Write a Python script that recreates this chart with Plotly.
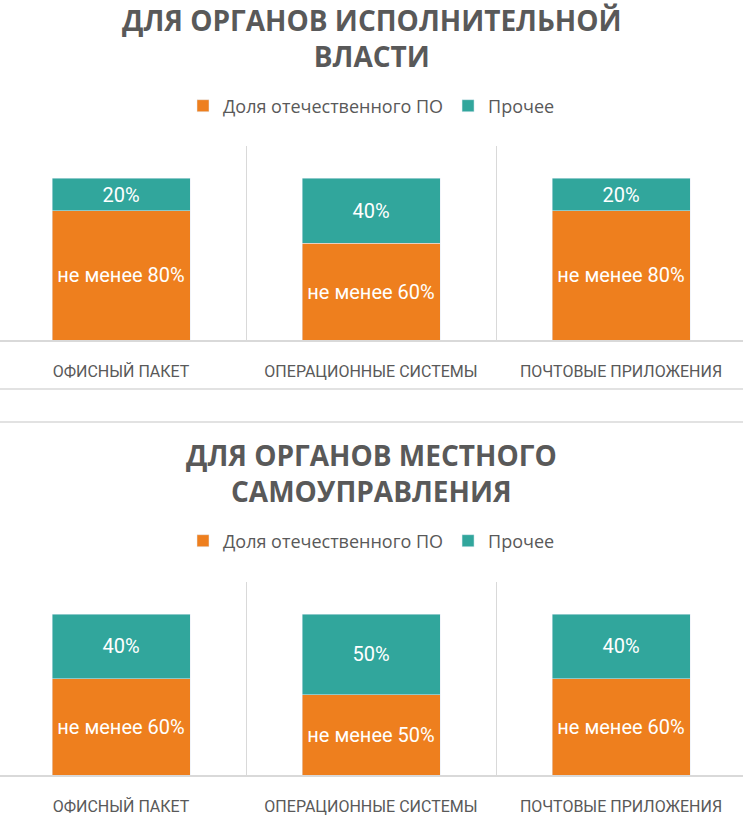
import plotly.graph_objects as go
from plotly.subplots import make_subplots

# data
categories = ["ОФИСНЫЙ ПАКЕТ", "ОПЕРАЦИОННЫЕ СИСТЕМЫ", "ПОЧТОВЫЕ ПРИЛОЖЕНИЯ"]
titles = ["ДЛЯ ОРГАНОВ ИСПОЛНИТЕЛЬНОЙ<br>ВЛАСТИ", "ДЛЯ ОРГАНОВ МЕСТНОГО<br>САМОУПРАВЛЕНИЯ"]
series_names = ["Доля отечественного ПО", "Прочее"]
domestic_exec = [80, 60, 80]
other_exec = [20, 40, 20]
domestic_local = [60, 50, 60]
other_local = [40, 50, 40]

ORANGE = "#EE7F1E"
TEAL = "#31A69C"
GREY = "#595959"
LINE = "#D9D9D9"
NARROW = "Roboto, Liberation Sans Narrow, DejaVu Sans Condensed, sans-serif"
SANS = "Open Sans, Noto Sans, sans-serif"

fig = make_subplots(rows=2, cols=1)

panels = [(domestic_exec, other_exec), (domestic_local, other_local)]
for i, (dom, oth) in enumerate(panels):
    row = i + 1
    leg = "legend" if i == 0 else "legend2"
    fig.add_trace(go.Bar(
        x=categories, y=dom, name=series_names[0], marker_color=ORANGE,
        text=["не менее %d%%" % v for v in dom], textposition="inside",
        insidetextanchor="middle", textangle=0, constraintext="none",
        textfont=dict(family=NARROW, size=20, color="white"),
        legend=leg, hoverinfo="skip"), row=row, col=1)
    fig.add_trace(go.Bar(
        x=categories, y=oth, name=series_names[1], marker_color=TEAL,
        text=["%d%%" % v for v in oth], textposition="inside",
        insidetextanchor="middle", textangle=0, constraintext="none",
        textfont=dict(family=NARROW, size=20, color="white"),
        legend=leg, hoverinfo="skip"), row=row, col=1)

H = 817.0
def py(px):
    return 1 - px / H

fig.update_layout(
    width=743, height=817,
    margin=dict(l=0, r=0, t=0, b=0),
    paper_bgcolor="white", plot_bgcolor="white",
    barmode="stack", bargap=0.448,
    font=dict(family=SANS, color=GREY),
    xaxis=dict(domain=[0, 1], anchor="y"),
    yaxis=dict(domain=[py(340), py(146)], anchor="x"),
    xaxis2=dict(domain=[0, 1], anchor="y2"),
    yaxis2=dict(domain=[py(775), py(582)], anchor="x2"),
    legend=dict(orientation="h", x=0.5, xanchor="center", y=py(106), yanchor="middle",
                font=dict(family=SANS, size=18, color=GREY), traceorder="normal",
                itemwidth=30, bgcolor="rgba(0,0,0,0)"),
    legend2=dict(orientation="h", x=0.5, xanchor="center", y=py(541), yanchor="middle",
                 font=dict(family=SANS, size=18, color=GREY), traceorder="normal",
                 itemwidth=30, bgcolor="rgba(0,0,0,0)"),
)

fig.update_xaxes(
    type="category", range=[-0.484, 2.488], tickson="boundaries",
    showgrid=True, gridcolor=LINE, gridwidth=1,
    showline=True, linecolor=LINE, linewidth=1.5,
    ticks="", ticklabelstandoff=16,
    tickfont=dict(family=NARROW, size=16, color=GREY),
    fixedrange=True)
fig.update_yaxes(range=[0, 120], showgrid=False, zeroline=False,
                 showticklabels=False, fixedrange=True)

# titles
for t, ypx in zip(titles, [38, 473]):
    fig.add_annotation(text=t, xref="paper", yref="paper",
                       x=0.5, y=py(ypx), xanchor="center", yanchor="middle",
                       showarrow=False,
                       font=dict(family=SANS, size=28, weight=700, color=GREY))

# separator lines under the category labels
for ypx in [389, 422]:
    fig.add_shape(type="line", xref="paper", yref="paper",
                  x0=0, x1=1, y0=py(ypx), y1=py(ypx),
                  line=dict(color=LINE, width=1.5))

fig.write_html("out.html", config={"displayModeBar": False},
               post_script="document.body.style.margin='0';")
